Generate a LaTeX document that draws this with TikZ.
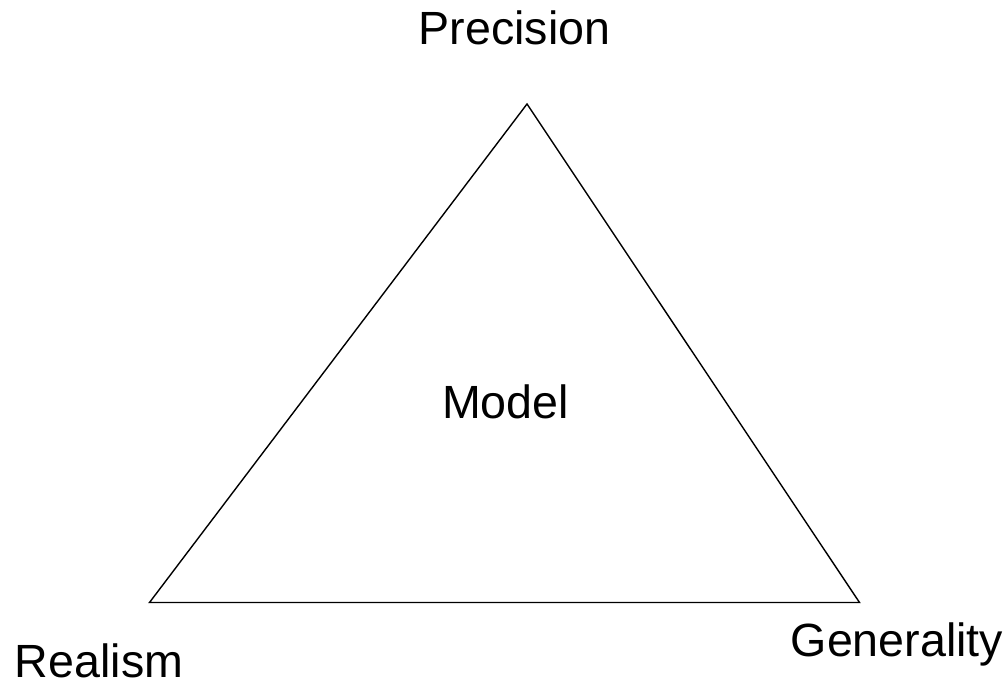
\documentclass[tikz,border=0pt]{standalone}
\usepackage{fontspec}
\setmainfont{Liberation Sans}
\begin{document}
\begin{tikzpicture}[x=0.5pt,y=-0.5pt,
  lbl/.style={anchor=base,inner sep=0pt,font=\fontsize{23.3pt}{28pt}\selectfont},
  edge/.style={line width=0.7pt,line join=miter}]
\useasboundingbox (0,0) rectangle (1006,684);
\coordinate (top) at (527,104);
\coordinate (bl) at (149.5,602.5);
\coordinate (br) at (859.5,602.5);
\draw[edge] (top) -- (bl) -- (br) -- cycle;
\node[lbl] (prec) at (514.5,45) {Precision};
\node[lbl] (real) at (99,677) {Realism};
\node[lbl] (gen) at (897,656) {Generality};
\node[lbl] (model) at (505.5,418) {Model};
\end{tikzpicture}
\end{document}
